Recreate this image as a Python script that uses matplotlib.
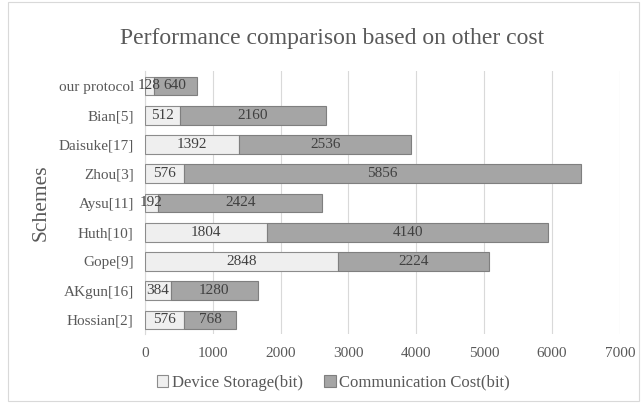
import numpy as np
import matplotlib.pyplot as plt
from matplotlib.patches import Rectangle

schemes = ["Hossian[2]", "AKgun[16]", "Gope[9]", "Huth[10]", "Aysu[11]",
           "Zhou[3]", "Daisuke[17]", "Bian[5]", "our protocol"]
storage = [576, 384, 2848, 1804, 192, 576, 1392, 512, 128]
comm = [768, 1280, 2224, 4140, 2424, 5856, 2536, 2160, 640]

plt.rcParams['font.family'] = ['Liberation Serif', 'DejaVu Serif']
txt = '#595959'

fig = plt.figure(figsize=(6.41, 4.03), dpi=100)
ax = fig.add_axes([0.226, 0.170, 0.741, 0.653])

y = np.arange(len(schemes))
h = 0.64
b1 = ax.barh(y, storage, height=h, color='#EFEFEF', edgecolor='#8C8C8C', linewidth=0.8,
             label='Device Storage(bit)', zorder=3)
b2 = ax.barh(y, comm, left=storage, height=h, color='#A5A5A5', edgecolor='#7F7F7F',
             linewidth=0.8, label='Communication Cost(bit)', zorder=3)

for i in range(len(schemes)):
    ax.text(storage[i] / 2, y[i], str(storage[i]), ha='center', va='center',
            fontsize=11, color='#404040', zorder=4)
    ax.text(storage[i] + comm[i] / 2, y[i], str(comm[i]), ha='center', va='center',
            fontsize=11, color='#404040', zorder=4)

ax.set_xlim(0, 7000)
ax.set_ylim(-0.5, len(schemes) - 0.5)
ax.set_xticks(range(0, 7001, 1000))
ax.set_yticks(y)
ax.set_yticklabels(schemes)
ax.tick_params(length=0, labelsize=11, labelcolor=txt)
ax.tick_params(axis='y', pad=8)
ax.tick_params(axis='x', pad=9)
ax.grid(axis='x', color='#D9D9D9', linewidth=0.8, zorder=0)
for s in ['top', 'right', 'bottom']:
    ax.spines[s].set_visible(False)
ax.spines['left'].set_color('#D9D9D9')

ax.set_ylabel('Schemes', fontsize=15.5, color=txt, labelpad=6)
fig.text(0.518, 0.905, 'Performance comparison based on other cost', ha='center',
         va='center', fontsize=17, color=txt)

fig.legend(handles=[b1, b2], loc='center', bbox_to_anchor=(0.52, 0.05), ncol=2,
           frameon=False, fontsize=12, labelcolor=txt, handlelength=0.7,
           handleheight=0.7, handletextpad=0.2, columnspacing=1.3)

fig.patches.append(Rectangle((0.012, 0.005), 0.985, 0.99, transform=fig.transFigure,
                             fill=False, edgecolor='#D9D9D9', linewidth=0.8))

fig.savefig('out.png', dpi=100)
